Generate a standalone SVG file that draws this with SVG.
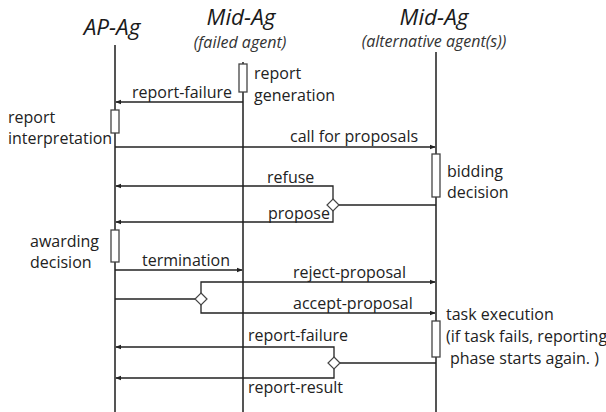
<svg xmlns="http://www.w3.org/2000/svg" width="606" height="412" viewBox="0 0 606 412">
  <style>
    .title { font-family: "Open Sans", "Liberation Sans", sans-serif; font-style: italic; font-size: 22.5px; fill: #1a1a1a; text-anchor: middle; }
    .sub { font-family: "Open Sans", "Liberation Sans", sans-serif; font-style: italic; font-size: 16px; fill: #333; text-anchor: middle; }
    .lbl { font-family: "Open Sans", "Liberation Sans", sans-serif; font-size: 16px; fill: #222; }
    .life { stroke: #555; stroke-width: 2; fill: none; }
    .act { fill: #fff; stroke: #444; stroke-width: 1.3; }
    .msg { stroke: #222; stroke-width: 1.3; fill: none; }
    .dia { fill: #fff; stroke: #444; stroke-width: 1.2; }
  </style>
  <defs>
    <marker id="arrow" viewBox="0 0 8 8" refX="7" refY="4" markerWidth="6" markerHeight="6" markerUnits="userSpaceOnUse" orient="auto">
      <path d="M0,1 L8,4 L0,7 z" fill="#222"/>
    </marker>
  </defs>
  <rect width="606" height="412" fill="#fff"/>

  <!-- AP-Ag lifeline -->
  <g id="ap-ag">
    <text class="title" x="112" y="35">AP-Ag</text>
    <line class="life" x1="115" y1="45" x2="115" y2="412"/>
    <rect class="act" x="111" y="110" width="8" height="23"/>
    <text class="lbl" x="8" y="123">report</text>
    <text class="lbl" x="8" y="144">interpretation</text>
    <rect class="act" x="111" y="230" width="8" height="32"/>
    <text class="lbl" x="30" y="247">awarding</text>
    <text class="lbl" x="30" y="268">decision</text>
  </g>

  <!-- Failed middle agent lifeline -->
  <g id="mid-ag-failed">
    <text class="title" x="241" y="25">Mid-Ag</text>
    <text class="sub" x="240" y="48">(failed agent)</text>
    <line class="life" x1="243" y1="62" x2="243" y2="412"/>
    <rect class="act" x="239" y="64" width="8" height="28"/>
    <text class="lbl" x="254" y="79">report</text>
    <text class="lbl" x="254" y="101">generation</text>
  </g>

  <!-- Alternative middle agent(s) lifeline -->
  <g id="mid-ag-alt">
    <text class="title" x="434" y="25">Mid-Ag</text>
    <text class="sub" x="434" y="47">(alternative agent(s))</text>
    <line class="life" x1="436" y1="52" x2="436" y2="412"/>
    <rect class="act" x="432" y="154" width="8" height="43"/>
    <text class="lbl" x="447" y="177">bidding</text>
    <text class="lbl" x="447" y="198">decision</text>
    <rect class="act" x="432" y="321" width="8" height="36"/>
    <text class="lbl" x="446" y="320">task execution</text>
    <text class="lbl" x="446" y="342">(if task fails, reporting</text>
    <text class="lbl" x="450" y="364">phase starts again. )</text>
  </g>

  <!-- Messages -->
  <g id="connectors">
    <line class="msg" x1="243" y1="102" x2="116" y2="102" marker-end="url(#arrow)"/>
    <line class="msg" x1="115" y1="147" x2="435" y2="147" marker-end="url(#arrow)"/>

    <!-- refuse / propose branch -->
    <line class="msg" x1="339" y1="205" x2="436" y2="205"/>
    <polyline class="msg" points="333,199 333,186 116,186" marker-end="url(#arrow)"/>
    <polyline class="msg" points="333,211 333,222 116,222" marker-end="url(#arrow)"/>
    <path class="dia" d="M333,199 L339,205 L333,211 L327,205 z"/>

    <line class="msg" x1="115" y1="270" x2="242" y2="270" marker-end="url(#arrow)"/>

    <!-- reject / accept branch -->
    <line class="msg" x1="115" y1="299" x2="195" y2="299"/>
    <polyline class="msg" points="201,293 201,282 435,282" marker-end="url(#arrow)"/>
    <polyline class="msg" points="201,305 201,313 435,313" marker-end="url(#arrow)"/>
    <path class="dia" d="M201,293 L207,299 L201,305 L195,299 z"/>

    <!-- report-failure / report-result branch -->
    <line class="msg" x1="340" y1="363" x2="436" y2="363"/>
    <polyline class="msg" points="334,357 334,347 116,347" marker-end="url(#arrow)"/>
    <polyline class="msg" points="334,369 334,378 116,378" marker-end="url(#arrow)"/>
    <path class="dia" d="M334,357 L340,363 L334,369 L328,363 z"/>

    <text class="lbl" x="232" y="98" text-anchor="end">report-failure</text>
    <text class="lbl" x="290" y="142">call for proposals</text>
    <text class="lbl" x="267" y="183">refuse</text>
    <text class="lbl" x="268" y="219">propose</text>
    <text class="lbl" x="142" y="266">termination</text>
    <text class="lbl" x="293" y="278">reject-proposal</text>
    <text class="lbl" x="293" y="309">accept-proposal</text>
    <text class="lbl" x="248" y="341">report-failure</text>
    <text class="lbl" x="248" y="393">report-result</text>
  </g>
</svg>
